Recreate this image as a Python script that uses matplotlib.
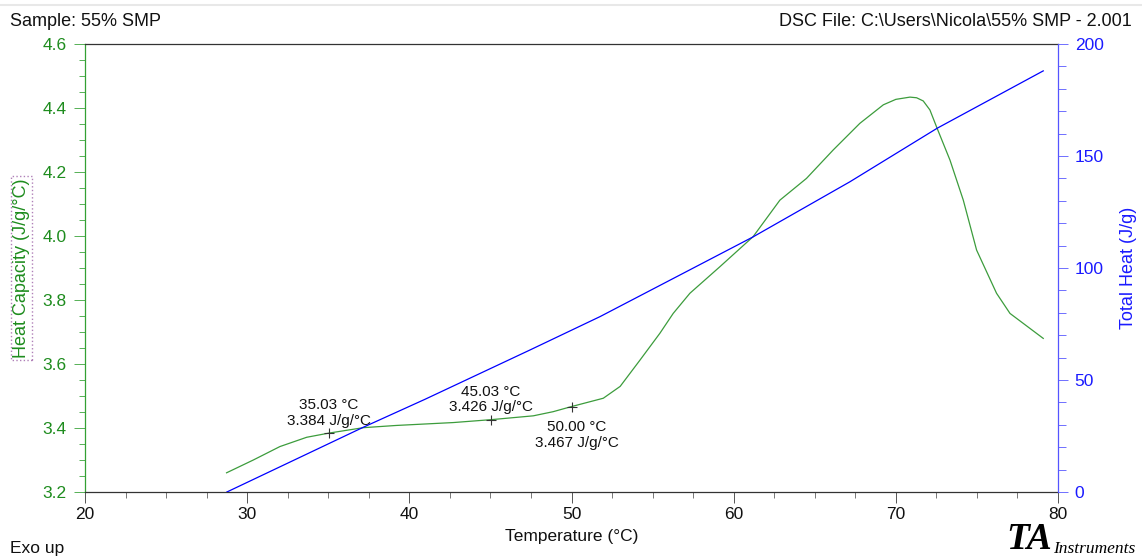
import matplotlib
matplotlib.use('Agg')
import matplotlib.pyplot as plt
from matplotlib.ticker import MultipleLocator
from matplotlib.lines import Line2D

plt.rcParams['font.family'] = ['Liberation Sans', 'DejaVu Sans']

# heat capacity curve
temp_cp = [28.73, 30.38, 32.02, 33.67, 35.03, 37.16, 39.21, 42.71, 45.03, 47.64,
           48.87, 50.00, 51.96, 53.00, 54.22, 55.45, 56.27, 57.30, 59.15, 61.20,
           62.85, 64.49, 66.14, 67.78, 69.23, 70.00, 70.87, 71.28, 71.69, 72.10, 72.55,
           73.34, 74.16, 74.98, 76.21, 77.04, 79.09]
cp = [3.260, 3.300, 3.342, 3.371, 3.384, 3.401, 3.408, 3.417, 3.426, 3.438,
      3.451, 3.467, 3.493, 3.530, 3.612, 3.696, 3.758, 3.821, 3.904, 3.998,
      4.112, 4.180, 4.269, 4.352, 4.410, 4.427, 4.434, 4.432, 4.422, 4.394, 4.336,
      4.237, 4.112, 3.956, 3.821, 3.758, 3.680]

# total heat curve
temp_heat = [28.75, 37.16, 40.97, 47.44, 51.76, 61.20, 67.17, 72.55, 79.09]
total_heat = [0.0, 28.9, 41.4, 63.4, 78.3, 113.9, 138.5, 162.4, 188.0]

# cursor points
mark_t = [35.03, 45.03, 50.00]
mark_cp = [3.384, 3.426, 3.467]

green = '#1e8c1e'
line_green = '#3c9c3c'
blue = '#1a1aff'

fig = plt.figure(figsize=(11.42, 5.58), dpi=100)
ax = fig.add_axes([0.07443, 0.11828, 0.85202, 0.80287])
ax2 = ax.twinx()

ax.plot(temp_cp, cp, color=line_green, lw=0.9)
ax2.plot(temp_heat, total_heat, color='#0000ff', lw=0.9)
ax.plot(mark_t, mark_cp, ls='none', marker='+', color='#333333', ms=7, mew=0.8)

ax.set_xlim(20, 80)
ax.set_ylim(3.2, 4.6)
ax2.set_ylim(0, 200)

ax.xaxis.set_major_locator(MultipleLocator(10))
ax.xaxis.set_minor_locator(MultipleLocator(2.5))
ax.yaxis.set_major_locator(MultipleLocator(0.2))
ax.yaxis.set_minor_locator(MultipleLocator(0.05))
ax.yaxis.set_major_formatter(matplotlib.ticker.FormatStrFormatter('%.1f'))
ax2.yaxis.set_major_locator(MultipleLocator(50))
ax2.yaxis.set_minor_locator(MultipleLocator(10))

for a in (ax, ax2):
    for s in a.spines.values():
        s.set_linewidth(0.9)
ax.spines['top'].set_color('#333333')
ax.spines['bottom'].set_color('#333333')
ax.spines['left'].set_color('#33a033')
ax.spines['right'].set_visible(False)
ax2.spines['right'].set_color('#5555ff')
ax2.spines['left'].set_visible(False)
ax2.spines['top'].set_visible(False)
ax2.spines['bottom'].set_visible(False)

ax.tick_params(axis='x', which='major', length=8, width=0.7, color='#555555',
               labelsize=12.5, pad=3, labelcolor='#111111')
ax.tick_params(axis='x', which='minor', length=4.5, width=0.7, color='#777777')
ax.tick_params(axis='y', which='major', length=8, width=0.7, color='#55b055',
               labelsize=12.5, pad=5, labelcolor=green)
ax.tick_params(axis='y', which='minor', length=4.5, width=0.7, color='#55b055')
ax2.tick_params(axis='y', which='major', length=7, width=0.7, color='#6f6fff',
                labelsize=12.5, pad=5, labelcolor=blue)
ax2.tick_params(axis='y', which='minor', length=5.5, width=0.7, color='#6f6fff')

ax.set_xlabel('Temperature (°C)', fontsize=12.5, color='#111111', labelpad=5)
ax.set_ylabel('Heat Capacity (J/g/°C)', fontsize=13, color=green,
              bbox=dict(boxstyle='square,pad=0.12', fc='none', ec='#b080b8', ls=':', lw=1))
ax.yaxis.set_label_coords(-0.0565, 0.5)
ax2.set_ylabel('Total Heat (J/g)', fontsize=13, color=blue, rotation=90)
ax2.yaxis.set_label_coords(1.0637, 0.5)

# cursor labels
ax.annotate('35.03 °C\n3.384 J/g/°C', (mark_t[0], mark_cp[0]), xytext=(0, 4),
            textcoords='offset points', ha='center', va='bottom', fontsize=11,
            linespacing=1.1, color='#111111')
ax.annotate('45.03 °C\n3.426 J/g/°C', (mark_t[1], mark_cp[1]), xytext=(0, 4),
            textcoords='offset points', ha='center', va='bottom', fontsize=11,
            linespacing=1.1, color='#111111')
ax.annotate('50.00 °C\n3.467 J/g/°C', (mark_t[2], mark_cp[2]), xytext=(4, -10),
            textcoords='offset points', ha='center', va='top', fontsize=11,
            linespacing=1.1, color='#111111')

fig.text(10 / 1142, 1 - 22 / 558, 'Sample: 55% SMP', fontsize=13, va='center', ha='left', color='#111111')
fig.text(1132 / 1142, 1 - 22 / 558, 'DSC File: C:\\Users\\Nicola\\55% SMP - 2.001', fontsize=13,
         va='center', ha='right', color='#111111')
fig.text(10 / 1142, 1 - 548 / 558, 'Exo up', fontsize=12.5, va='center', ha='left', color='#111111')

# logo
fig.text(1006 / 1142, 1 / 558, 'TA', fontsize=27, family='Liberation Serif',
         style='italic', weight='bold', ha='left', va='bottom', color='black')
fig.text(1053 / 1142, 1 / 558, 'Instruments', fontsize=12.5, family='Liberation Serif',
         style='italic', ha='left', va='bottom', color='black')

fig.add_artist(Line2D([0, 1], [1 - 5 / 558, 1 - 5 / 558], color='#e8e8e8', lw=1.5))

fig.savefig('out.png', dpi=100)
